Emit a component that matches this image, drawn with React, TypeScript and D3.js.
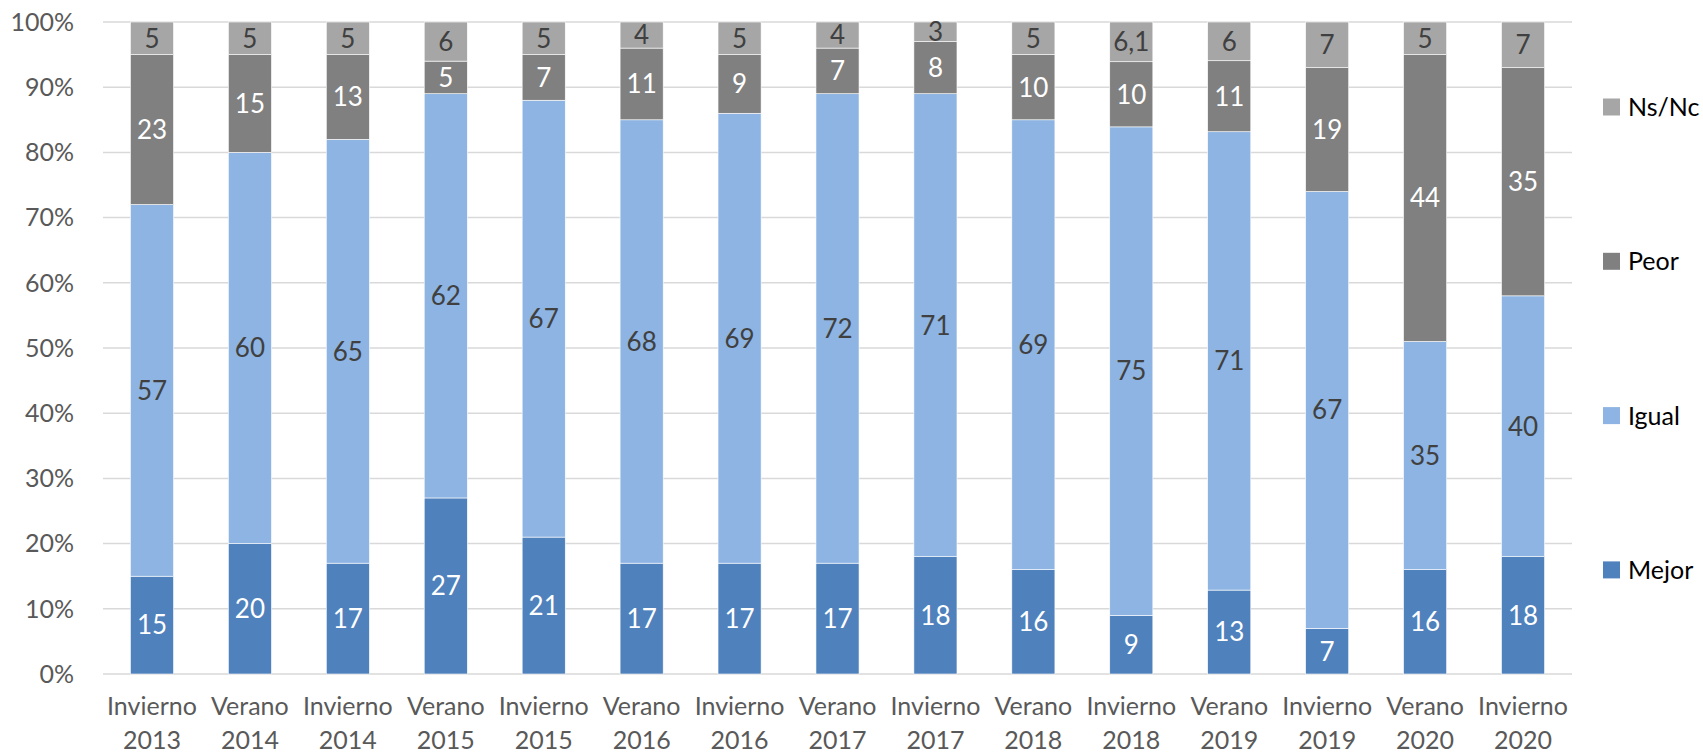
import React, { useRef, useEffect } from 'react';
import * as d3 from 'd3';

const periods = [
  'Invierno 2013', 'Verano 2014', 'Invierno 2014', 'Verano 2015', 'Invierno 2015',
  'Verano 2016', 'Invierno 2016', 'Verano 2017', 'Invierno 2017', 'Verano 2018',
  'Invierno 2018', 'Verano 2019', 'Invierno 2019', 'Verano 2020', 'Invierno 2020'
];
const mejor = [15, 20, 17, 27, 21, 17, 17, 17, 18, 16, 9, 13, 7, 16, 18];
const igual = [57, 60, 65, 62, 67, 68, 69, 72, 71, 69, 75, 71, 67, 35, 40];
const peor = [23, 15, 13, 5, 7, 11, 9, 7, 8, 10, 10, 11, 19, 44, 35];
const nsnc = [5, 5, 5, 6, 5, 4, 5, 4, 3, 5, 6.1, 6, 7, 5, 7];

const seriesNames = ['Mejor', 'Igual', 'Peor', 'Ns/Nc'];
const seriesColors = ['#4F81BD', '#8DB4E2', '#808080', '#A6A6A6'];
const labelColors = ['#FFFFFF', '#404040', '#FFFFFF', '#404040'];
const yTicks = [0, 0.1, 0.2, 0.3, 0.4, 0.5, 0.6, 0.7, 0.8, 0.9, 1];

const W = 1703;
const H = 756;
const FONT = 'Lato, "Open Sans", sans-serif';

const App = () => {
  const ref = useRef<SVGSVGElement>(null);

  useEffect(() => {
    const svg = d3.select(ref.current);
    svg.selectAll('*').remove();

    const left = 103, right = 1572, top = 22, bottom = 674;

    const rows = periods.map((p, i) => ({
      period: p,
      Mejor: mejor[i],
      Igual: igual[i],
      Peor: peor[i],
      'Ns/Nc': nsnc[i]
    }));

    const stacked = d3.stack<any>()
      .keys(seriesNames)
      .offset(d3.stackOffsetExpand)(rows);

    const x = d3.scaleBand()
      .domain(periods)
      .range([left, right])
      .paddingInner(0.56)
      .paddingOuter(0.28);

    const y = d3.scaleLinear().domain([0, 1]).range([bottom, top]);

    // gridlines + y labels
    svg.append('g')
      .selectAll('line')
      .data(yTicks)
      .enter().append('line')
      .attr('x1', left).attr('x2', right)
      .attr('y1', d => y(d)).attr('y2', d => y(d))
      .attr('stroke', '#D9D9D9')
      .attr('stroke-width', 1.5);

    svg.append('g')
      .selectAll('text')
      .data(yTicks)
      .enter().append('text')
      .attr('x', 74)
      .attr('y', d => y(d))
      .attr('dy', '0.35em')
      .attr('text-anchor', 'end')
      .attr('fill', '#595959')
      .style('font-family', FONT)
      .style('font-size', '25px')
      .text(d => d3.format('.0%')(d));

    // bars
    const layer = svg.append('g')
      .selectAll('g')
      .data(stacked)
      .enter().append('g')
      .attr('fill', (d, i) => seriesColors[i]);

    layer.selectAll('rect')
      .data(d => d)
      .enter().append('rect')
      .attr('x', d => x(d.data.period))
      .attr('width', x.bandwidth())
      .attr('y', d => y(d[1]))
      .attr('height', d => y(d[0]) - y(d[1]))
      .attr('stroke', '#FFFFFF')
      .attr('stroke-width', 0.6);

    // data labels
    stacked.forEach((s, si) => {
      svg.append('g')
        .selectAll('text')
        .data(s)
        .enter().append('text')
        .attr('x', d => x(d.data.period) + x.bandwidth() / 2)
        .attr('y', d => (y(d[0]) + y(d[1])) / 2)
        .attr('dy', '0.36em')
        .attr('text-anchor', 'middle')
        .attr('fill', labelColors[si])
        .style('font-family', FONT)
        .style('font-size', '26px')
        .text(d => String(d.data[s.key]).replace('.', ','));
    });

    // x labels
    const xl = svg.append('g')
      .selectAll('text')
      .data(periods)
      .enter().append('text')
      .attr('text-anchor', 'middle')
      .attr('fill', '#595959')
      .style('font-family', FONT)
      .style('font-size', '25px');
    xl.append('tspan')
      .attr('x', d => x(d) + x.bandwidth() / 2)
      .attr('y', 715)
      .text(d => d.split(' ')[0]);
    xl.append('tspan')
      .attr('x', d => x(d) + x.bandwidth() / 2)
      .attr('y', 749)
      .text(d => d.split(' ')[1]);

    // legend, top to bottom: Ns/Nc, Peor, Igual, Mejor
    const legendOrder = [3, 2, 1, 0];
    const lg = svg.append('g')
      .selectAll('g')
      .data(legendOrder)
      .enter().append('g')
      .attr('transform', (d, i) => `translate(1603,${107 + i * 154.3})`);
    lg.append('rect')
      .attr('x', 0).attr('y', -8.5)
      .attr('width', 17).attr('height', 17)
      .attr('fill', d => seriesColors[d]);
    lg.append('text')
      .attr('x', 25)
      .attr('dy', '0.36em')
      .attr('fill', '#000000')
      .style('font-family', FONT)
      .style('font-size', '25px')
      .text(d => seriesNames[d]);
  }, []);

  return (
    <svg
      ref={ref}
      width={W}
      height={H}
      style={{ position: 'absolute', left: 0, top: 0, background: '#FFFFFF' }}
    />
  );
};

export default App;
